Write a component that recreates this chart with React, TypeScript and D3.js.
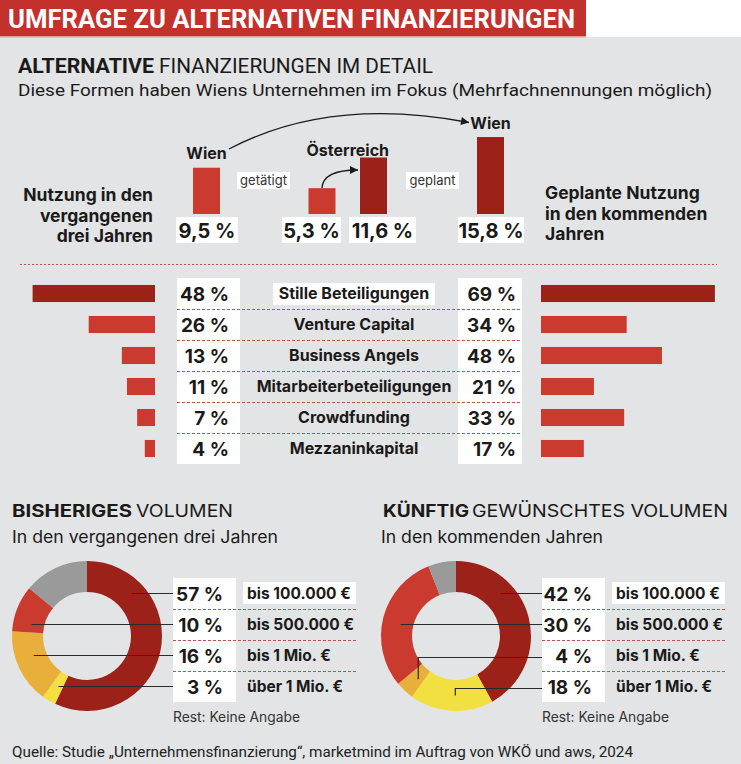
import React from "react";
import * as d3 from "d3";

// ---------- data ----------
const overviewKeys = ["wienPast", "atPast", "atPlanned", "wienPlanned"];
const overviewValues = [9.5, 5.3, 11.6, 15.8];
const overviewPlanned = [false, false, true, true];

const categories = [
  "Stille Beteiligungen",
  "Venture Capital",
  "Business Angels",
  "Mitarbeiterbeteiligungen",
  "Crowdfunding",
  "Mezzaninkapital",
];
const pastUse = [48, 26, 13, 11, 7, 4];
const plannedUse = [69, 34, 48, 21, 33, 17];

const volumeCategories = ["bis 100.000 €", "bis 500.000 €", "bis 1 Mio. €", "über 1 Mio. €"];
const pastVolume = [57, 10, 16, 3];
const futureVolume = [42, 30, 4, 18];
const restCategory = "Keine Angabe";
// order of slices clockwise from 12 o'clock
const sliceOrder = ["bis 100.000 €", "über 1 Mio. €", "bis 1 Mio. €", "bis 500.000 €", "Keine Angabe"];
const pastLeader = ["h", "h", "h", "h"];
const futureLeader = ["h", "h", "elbow", "elbow"];

// ---------- style ----------
const FONT = "Inter, Roboto, 'Noto Sans', Arial, sans-serif";
const COND = "Roboto, 'Noto Sans', Arial, sans-serif";
const INK = "#1b1a19";
const BG = "#e2e4e6";
const DARK = "#9c2119";
const RED = "#cb3a2f";
const ORANGE = "#e8b03b";
const YELLOW = "#f2df40";
const GREY = "#9a9a9a";
const DASH = "#c0514b";

const volColor: Record<string, string> = {
  "bis 100.000 €": DARK,
  "bis 500.000 €": RED,
  "bis 1 Mio. €": ORANGE,
  "über 1 Mio. €": YELLOW,
  "Keine Angabe": GREY,
};

const fmt = (v: number) => `${String(v).replace(".", ",")} %`;

function T(props: any) {
  const { children, ...rest } = props;
  return (
    <text fontFamily={FONT} fill={INK} {...rest}>
      {children}
    </text>
  );
}

function Donut({ cx, values, leader, titleBold, titleRest, sub, subW }: any) {
  const cy = 636;
  const rIn = 44;
  const rOut = 75;
  const rMid = (rIn + rOut) / 2;
  const rest = 100 - d3.sum(values as number[]);
  const valueOf: Record<string, number> = {};
  volumeCategories.forEach((c, i) => (valueOf[c] = values[i]));
  valueOf[restCategory] = rest;
  const pieData = d3
    .pie<string>()
    .sort(null)
    .value((d) => valueOf[d])(sliceOrder);
  const arc = d3.arc<any>().innerRadius(rIn).outerRadius(rOut);
  const rowY = d3.scaleBand<string>().domain(volumeCategories).range([578, 702]);
  const boxX = cx + 86;
  const boxW = 63;
  const labelX = boxX + 74;

  return (
    <g>
      <T x={titleBold.x} y={517} fontSize={17} fontWeight={700} textLength={titleBold.w} lengthAdjust="spacingAndGlyphs">
        {titleBold.text}
      </T>
      <T x={titleRest.x} y={517} fontSize={17} fontWeight={400} textLength={titleRest.w} lengthAdjust="spacingAndGlyphs">
        {titleRest.text}
      </T>
      <T x={cx - 75} y={543} fontSize={17} fontWeight={400} textLength={subW} lengthAdjust="spacingAndGlyphs">
        {sub}
      </T>
      <g transform={`translate(${cx},${cy})`}>
        {pieData.map((p) => (
          <path key={p.data} d={arc(p) as string} fill={volColor[p.data]} />
        ))}
      </g>
      <rect x={boxX} y={578} width={boxW} height={124} fill="#fff" />
      <rect x={labelX - 4} y={582} width={113} height={22} fill="#fff" />
      {volumeCategories.slice(1).map((c) => (
        <line
          key={c}
          x1={boxX}
          x2={boxX + 185}
          y1={(rowY(c) as number) + 0.5}
          y2={(rowY(c) as number) + 0.5}
          stroke={DASH}
          strokeWidth={1}
          strokeDasharray="3,2"
        />
      ))}
      {volumeCategories.map((c, i) => {
        const y = (rowY(c) as number) + rowY.bandwidth() / 2;
        const slice = pieData.find((p) => p.data === c)!;
        let d = "";
        if (leader[i] === "h") {
          const dy = y - cy;
          const dx = Math.sqrt(Math.max(0, rMid * rMid - dy * dy));
          const mid = (slice.startAngle + slice.endAngle) / 2;
          const side = Math.sin(mid) >= 0 ? 1 : -1;
          d = `M${cx + side * dx + 3},${y}H${boxX}`;
        } else {
          const [px, py] = arc.centroid(slice);
          d = `M${cx + px + 3},${cy + py}V${y + 2}H${boxX}`;
        }
        return <path key={c} d={d} fill="none" stroke="#2a2a2a" strokeWidth={1.2} />;
      })}
      {volumeCategories.map((c, i) => {
        const y = (rowY(c) as number) + rowY.bandwidth() / 2;
        return (
          <g key={c}>
            <T x={boxX + 50} y={y + 7} fontSize={19} fontWeight={700} textAnchor="end">
              {fmt(values[i])}
            </T>
            <T x={labelX} y={y + 5.5} fontSize={15.5} fontWeight={700}>
              {c}
            </T>
          </g>
        );
      })}
      <T x={boxX} y={722} fontSize={13.8} fill="#333">
        Rest: {restCategory}
      </T>
    </g>
  );
}

export default function App() {
  // top comparison
  const xOver = d3.scaleOrdinal<string, number>().domain(overviewKeys).range([206.5, 322, 373.5, 490.5]);
  const yOver = d3.scaleLinear().domain([0, 20]).range([214, 116.6]);
  const barW = 27;
  const boxOffset = [0.5, -10.5, 9, 0.5];
  const boxWidth = [62, 59, 67, 66];

  // bars section
  const yRow = d3.scaleBand<string>().domain(categories).range([278, 464]).paddingInner(0.45).paddingOuter(0.225);
  const rowBand = d3.scaleBand<string>().domain(categories).range([278, 464]);
  const xLeft = d3.scaleLinear().domain([0, 100]).range([155, -100]);
  const xRight = d3.scaleLinear().domain([0, 100]).range([541, 793]);

  return (
    <div style={{ position: "absolute", left: 0, top: 0 }}>
      <svg width={741} height={764} style={{ display: "block" }}>
        <defs>
          <marker id="ah" viewBox="0 0 10 10" refX={10} refY={5} markerWidth={11} markerHeight={8} markerUnits="userSpaceOnUse" orient="auto">
            <path d="M0,0L10,5L0,10Z" fill={INK} />
          </marker>
        </defs>
        <rect x={0} y={0} width={741} height={764} fill="#fff" />
        <rect x={0} y={37} width={741} height={727} fill={BG} />
        <rect x={0} y={0} width={586} height={36} fill="#c4302b" />
        <rect x={0} y={36} width={586} height={1.5} fill="#e49c98" />
        <T x={8} y={28} fontFamily={COND} fontSize={26} fontWeight={700} fill="#fff" textLength={567} lengthAdjust="spacingAndGlyphs">
          UMFRAGE ZU ALTERNATIVEN FINANZIERUNGEN
        </T>

        <T x={18} y={73} fontFamily={COND} fontSize={21} fontWeight={700} textLength={136} lengthAdjust="spacingAndGlyphs">
          ALTERNATIVE
        </T>
        <T x={159} y={73} fontFamily={COND} fontSize={21} fontWeight={400} textLength={274} lengthAdjust="spacingAndGlyphs">
          FINANZIERUNGEN IM DETAIL
        </T>
        <T x={18} y={96} fontFamily={COND} fontSize={17} fontWeight={400} textLength={694} lengthAdjust="spacingAndGlyphs">
          Diese Formen haben Wiens Unternehmen im Fokus (Mehrfachnennungen möglich)
        </T>

        {/* arrows */}
        <path d="M229,149 Q330,96 469,122.5" fill="none" stroke={INK} strokeWidth={1.3} markerEnd="url(#ah)" />
        <path d="M322,188 Q323,170 358,170" fill="none" stroke={INK} strokeWidth={1.3} markerEnd="url(#ah)" />

        {/* overview bars */}
        {overviewKeys.map((k, i) => {
          const cx = xOver(k);
          const v = overviewValues[i];
          const bc = cx + boxOffset[i];
          return (
            <g key={k}>
              <rect x={cx - barW / 2} y={yOver(v)} width={barW} height={yOver(0) - yOver(v)} fill={overviewPlanned[i] ? DARK : RED} />
              <rect x={bc - boxWidth[i] / 2} y={217} width={boxWidth[i]} height={26} fill="#fff" />
              <T x={bc} y={237.5} fontSize={20} fontWeight={700} textAnchor="middle">
                {fmt(v)}
              </T>
            </g>
          );
        })}
        <T x={xOver("wienPast")} y={159} fontSize={16} fontWeight={700} textAnchor="middle">
          Wien
        </T>
        <T x={(xOver("atPast") + xOver("atPlanned")) / 2} y={156} fontSize={16} fontWeight={700} textAnchor="middle">
          Österreich
        </T>
        <T x={xOver("wienPlanned")} y={129} fontSize={16} fontWeight={700} textAnchor="middle">
          Wien
        </T>
        <rect x={237} y={172} width={53} height={17} fill="#fff" />
        <T x={263.5} y={185} fontSize={13} textAnchor="middle" fill="#333">
          getätigt
        </T>
        <rect x={406} y={172} width={53} height={17} fill="#fff" />
        <T x={432.5} y={185} fontSize={13} textAnchor="middle" fill="#333">
          geplant
        </T>

        {["Nutzung in den", "vergangenen", "drei Jahren"].map((t, i) => (
          <T key={t} x={153} y={201 + i * 20.5} fontSize={17.5} fontWeight={700} textAnchor="end">
            {t}
          </T>
        ))}
        {["Geplante Nutzung", "in den kommenden", "Jahren"].map((t, i) => (
          <T key={t} x={545} y={199 + i * 20.5} fontSize={17.5} fontWeight={700}>
            {t}
          </T>
        ))}

        <line x1={20} x2={717} y1={264.5} y2={264.5} stroke={DASH} strokeWidth={1.2} strokeDasharray="2,2" />

        {/* category bars */}
        <rect x={177} y={278} width={63} height={186} fill="#fff" />
        <rect x={458} y={278} width={64} height={186} fill="#fff" />
        <rect x={273} y={283} width={162} height={22} fill="#fff" />
        {categories.slice(1).map((c) => (
          <line
            key={c}
            x1={177}
            x2={522}
            y1={(rowBand(c) as number) + 0.5}
            y2={(rowBand(c) as number) + 0.5}
            stroke={DASH}
            strokeWidth={1}
            strokeDasharray="3,2"
          />
        ))}
        {categories.map((c, i) => {
          const yc = (rowBand(c) as number) + rowBand.bandwidth() / 2;
          const fill = i === 0 ? DARK : RED;
          return (
            <g key={c}>
              <rect x={xLeft(pastUse[i])} y={yRow(c)} width={xLeft(0) - xLeft(pastUse[i])} height={yRow.bandwidth()} fill={fill} />
              <rect x={xRight(0)} y={yRow(c)} width={xRight(plannedUse[i]) - xRight(0)} height={yRow.bandwidth()} fill={fill} />
              <T x={229} y={yc + 7} fontSize={19} fontWeight={700} textAnchor="end">
                {fmt(pastUse[i])}
              </T>
              <T x={516} y={yc + 7} fontSize={19} fontWeight={700} textAnchor="end">
                {fmt(plannedUse[i])}
              </T>
              <T x={354} y={yc + 5.5} fontSize={16} fontWeight={700} textAnchor="middle">
                {c}
              </T>
            </g>
          );
        })}

        <Donut
          cx={87}
          values={pastVolume}
          leader={pastLeader}
          titleBold={{ text: "BISHERIGES", x: 12, w: 120 }}
          titleRest={{ text: "VOLUMEN", x: 136, w: 97 }}
          sub="In den vergangenen drei Jahren"
          subW={266}
        />
        <Donut
          cx={456}
          values={futureVolume}
          leader={futureLeader}
          titleBold={{ text: "KÜNFTIG", x: 383, w: 86 }}
          titleRest={{ text: "GEWÜNSCHTES VOLUMEN", x: 472, w: 256 }}
          sub="In den kommenden Jahren"
          subW={222}
        />

        <T x={12} y={757} fontFamily={COND} fontSize={14} fill="#222" textLength={621} lengthAdjust="spacingAndGlyphs">
          Quelle: Studie „Unternehmensfinanzierung“, marketmind im Auftrag von WKÖ und aws, 2024
        </T>
      </svg>
    </div>
  );
}
